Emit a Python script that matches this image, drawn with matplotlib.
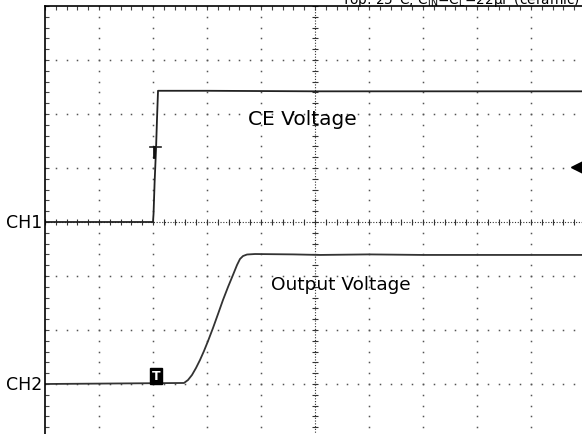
import numpy as np
import matplotlib.pyplot as plt

# scope trace, in screen divisions (x: 0..10, y: -4..4)
ch1_x = [0.0, 2.00, 2.01, 2.03, 2.056, 2.074, 2.093, 3.0, 5.0, 7.0, 10.0]
ch1_y = [0.0, 0.00, 0.15, 0.74, 1.35, 1.90, 2.43, 2.43, 2.42, 2.42, 2.42]

ch2_x = [0.0, 2.574, 2.648, 2.722, 2.796, 2.870, 2.944, 3.019, 3.111, 3.204,
         3.296, 3.389, 3.481, 3.556, 3.611, 3.667, 3.741, 3.889, 4.6, 5.09,
         6.0, 7.0, 8.0, 10.0]
ch2_y = [-3.0, -2.981, -2.926, -2.833, -2.704, -2.556, -2.389, -2.204, -1.963,
         -1.704, -1.444, -1.204, -0.981, -0.796, -0.685, -0.630, -0.602, -0.593,
         -0.60, -0.61, -0.60, -0.61, -0.61, -0.61]

ch1_label = "CH1"
ch2_label = "CH2"
ch1_offset = 0.0
ch2_offset = -3.0
trig_level = 1.02
title_txt = "Top: 25°C, C$_{\\rm IN}$=C$_{\\rm L}$=22µF (ceramic)"

plt.rcParams['font.family'] = ['DejaVu Sans']

fig = plt.figure(figsize=(5.82, 4.35), dpi=100)
ax = fig.add_axes([45 / 582, -4 / 435, 540 / 582, 432 / 435])
ax.set_xlim(0, 10)
ax.set_ylim(-4, 4)

# dotted graticule
sub = np.arange(0, 8.01, 0.2) - 4
subx = np.arange(0, 10.01, 0.2)
for gx in range(1, 10):
    if gx == 5:
        continue
    ax.plot(np.full_like(sub, gx), sub, ls='none', marker='s', ms=1.1,
            mew=0, color='#555')
for gy in range(-3, 4):
    if gy == 0:
        continue
    ax.plot(subx, np.full_like(subx, gy), ls='none', marker='s', ms=1.1,
            mew=0, color='#555')

# centre axes with small ticks
ax.plot([0, 10], [0, 0], ls=(0, (1, 1.5)), lw=0.8, color='#333')
ax.plot([5, 5], [-4, 4], ls=(0, (1, 1.5)), lw=0.8, color='#333')
ax.plot(subx, np.zeros_like(subx), ls='none', marker='|', ms=5, mew=0.8, color='#333')
ax.plot(np.full_like(sub, 5.0), sub, ls='none', marker='_', ms=5, mew=0.8, color='#333')

# traces
ax.plot(ch1_x, ch1_y, color='#222', lw=1.3)
ax.plot(ch2_x, ch2_y, color='#333', lw=1.3)

# trigger cursor on CH1
ax.plot([1.94, 2.15], [1.39, 1.39], color='#222', lw=1.2)
ax.plot([2.02, 2.02], [1.39, 1.20], color='#111', lw=2.0)

# T marker on CH2
ax.text(2.05, ch2_offset + 0.03, "T", ha='center', va='bottom', color='white',
        fontsize=9, fontweight='bold',
        bbox=dict(boxstyle='square,pad=0.12', fc='black', ec='black'))

# trigger level arrow
ax.plot([9.85], [trig_level], marker='<', ms=8, color='black', clip_on=False)

# channel labels
ax.text(-0.05, ch1_offset, ch1_label, ha='right', va='center', fontsize=12.5)
ax.text(-0.05, ch2_offset, ch2_label, ha='right', va='center', fontsize=12.5)

ax.text(3.76, 1.92, "CE Voltage", ha='left', va='center', fontsize=14.5)
ax.text(4.19, -1.15, "Output Voltage", ha='left', va='center', fontsize=13.3)

fig.text(580 / 582, 1 - 4 / 435, title_txt, ha='right', va='baseline', fontsize=9.8)

# border with minor ticks
for s in ['right', 'bottom']:
    ax.spines[s].set_visible(False)
ax.spines['left'].set_linewidth(1.2)
ax.spines['top'].set_linewidth(1.2)
ax.set_xticks(subx)
ax.set_yticks(sub)
ax.tick_params(direction='in', length=3, width=0.8, color='#444',
               left=True, top=True, bottom=False, right=False,
               labelleft=False, labelbottom=False)

fig.savefig("out.png", dpi=100)
